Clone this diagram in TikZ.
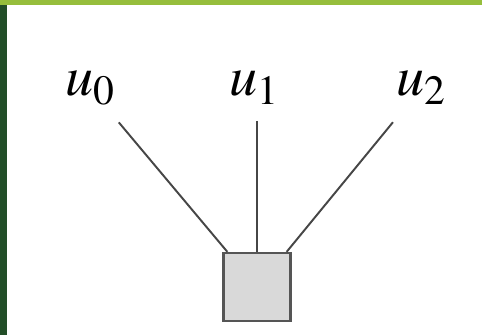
\documentclass[tikz,border=0pt]{standalone}
\usepackage{mathptmx}
\usetikzlibrary{positioning}
\definecolor{leafdark}{RGB}{34,78,40}
\definecolor{leaflight}{RGB}{150,190,60}
\definecolor{boxfill}{RGB}{217,217,217}
\definecolor{boxline}{RGB}{85,85,85}
\definecolor{wirecol}{RGB}{70,70,70}
\tikzset{
  lbl/.style={inner sep=0pt, font=\fontsize{32}{38}\selectfont},
  factor/.style={draw=boxline, line width=1.3pt, fill=boxfill, minimum width=1.34cm, minimum height=1.36cm, inner sep=0pt},
  wire/.style={draw=wirecol, line width=1.1pt}
}
\begin{document}
\begin{tikzpicture}

% screenshot frame
\fill[leafdark] (0,0) rectangle (9.64,6.7);
\fill[leaflight] (0,6.6) rectangle (9.64,6.7);
\fill[white] (0.14,0) rectangle (9.64,6.6);
\useasboundingbox (0,0) rectangle (9.64,6.7);

\node[lbl] (u0) at (1.8,4.94) {$u_0$};
\node[lbl] (u1) at (5.08,4.94) {$u_1$};
\node[lbl] (u2) at (8.42,4.94) {$u_2$};

\node[factor] (f) at (5.14,0.96) {};

\draw[wire, shorten <=0.45cm] (u0) -- ([xshift=0.1cm]f.north west);
\draw[wire, shorten <=0.32cm] (u1.south -| f.north) -- (f.north);
\draw[wire, shorten <=0.45cm] (u2) -- ([xshift=-0.1cm]f.north east);

\end{tikzpicture}
\end{document}
